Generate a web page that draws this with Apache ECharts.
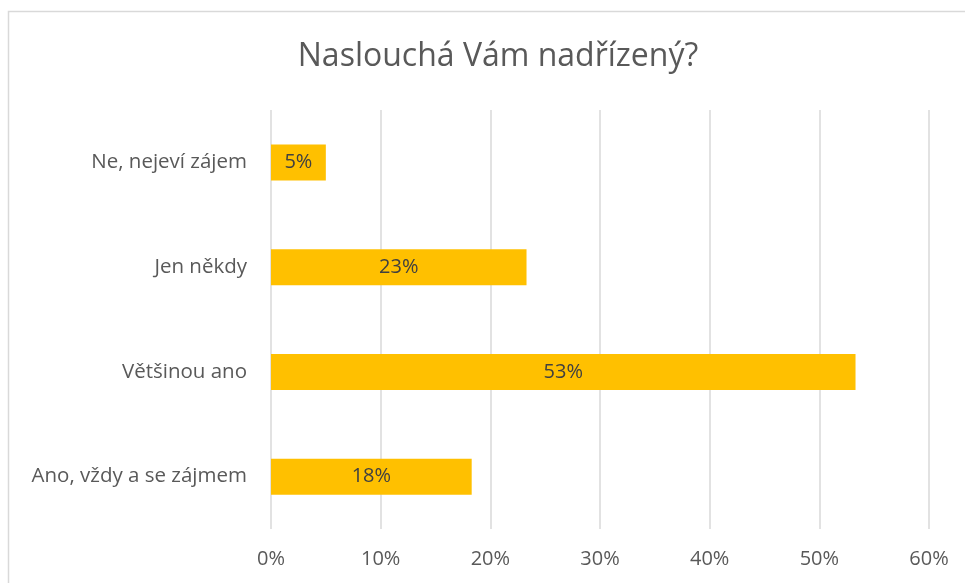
<!DOCTYPE html>
<html>
<head>
<meta charset="utf-8">
<style>
  html, body { margin: 0; padding: 0; background: #fff; }
  #chart { width: 965px; height: 583px; }
</style>
<script src="https://cdn.jsdelivr.net/npm/echarts@6/dist/echarts.min.js"></script>
</head>
<body>
<div id="chart"></div>
<script>
var categories = ['Ano, vždy a se zájmem', 'Většinou ano', 'Jen někdy', 'Ne, nejeví zájem'];
var values = [18.3, 53.3, 23.3, 5.0];
var tickMax = 60;
var tickStep = 10;

var chart = echarts.init(document.getElementById('chart'), null, { renderer: 'canvas' });
var font = '"Open Sans", "Noto Sans", sans-serif';

chart.setOption({
  animation: false,
  backgroundColor: '#fff',
  title: {
    text: 'Naslouchá Vám nadřízený?',
    left: 493,
    top: 36,
    textAlign: 'center',
    textStyle: { fontFamily: font, fontSize: 32, fontWeight: 'normal', color: '#595959' }
  },
  grid: { left: 271, right: 36, top: 110, bottom: 54, containLabel: false },
  xAxis: {
    type: 'value',
    min: 0,
    max: tickMax,
    interval: tickStep,
    axisLine: { show: false },
    axisTick: { show: false },
    axisLabel: {
      color: '#595959', fontFamily: font, fontSize: 20, margin: 20,
      formatter: function(v) { return v + '%'; }
    },
    splitLine: { lineStyle: { color: '#d9d9d9', width: 1.5 } }
  },
  yAxis: {
    type: 'category',
    data: categories,
    axisLine: { show: false },
    axisTick: { show: false },
    axisLabel: { color: '#595959', fontFamily: font, fontSize: 20.5, margin: 24 }
  },
  series: [{
    type: 'bar',
    data: values,
    barWidth: 36,
    itemStyle: { color: '#ffc000' },
    label: {
      show: true,
      position: 'inside',
      color: '#404040',
      fontFamily: font,
      fontSize: 20,
      formatter: function(p) { return Math.round(p.value) + '%'; }
    }
  }],
  graphic: [{
    type: 'rect',
    shape: { x: 8.5, y: 11.5, width: 1000, height: 1000 },
    style: { fill: 'none', stroke: '#d9d9d9', lineWidth: 1.5 },
    silent: true
  }]
});
window.addEventListener('resize', function() { chart.resize(); });
</script>
</body>
</html>
